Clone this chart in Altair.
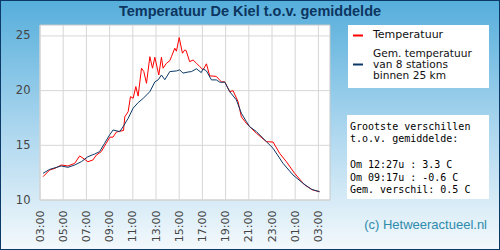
import altair as alt
import pandas as pd

# ---- data (hours since 00:00 of first day; values in deg C) ----
temp_hours = [3.26, 3.83, 4.3, 4.83, 5.41, 5.99, 6.42, 6.85, 7.13, 7.56, 7.85, 8.28, 8.71,
              9.02, 9.3, 9.57, 9.88, 10.2, 10.31, 10.6, 10.8, 11.03, 11.26, 11.46, 11.75,
              11.95, 12.18, 12.47, 12.7, 12.9, 13.24, 13.47, 13.61, 13.9, 14.19, 14.33,
              14.62, 14.76, 15.0, 15.28, 15.48, 15.6, 15.9, 16.2, 16.49, 16.77, 17.06,
              17.35, 17.63, 18.2, 18.64, 18.93, 19.36, 19.64, 20.07, 20.36, 20.8, 21.08,
              21.66, 22.52, 23.09, 23.66, 24.24, 24.95, 25.82, 26.53, 27.1]
temp_values = [12.13, 12.74, 12.9, 13.2, 13.11, 13.35, 14.03, 13.72, 13.5, 13.66, 14.1, 14.42,
               15.19, 15.74, 15.75, 16.2, 16.3, 16.35, 17.6, 18.08, 19.45, 19.3, 20.37, 19.5,
               22.05, 21.74, 20.67, 23.1, 22.05, 23.05, 21.43, 23.05, 22.05, 22.5, 22.74,
               23.1, 23.88, 23.6, 24.85, 23.42, 23.72, 23.66, 22.65, 22.8, 22.5, 22.2, 21.9,
               22.45, 21.35, 21.3, 20.8, 20.8, 19.9, 20.0, 19.0, 17.6, 17.0, 16.7, 16.1,
               15.33, 15.3, 14.27, 13.5, 12.44, 11.37, 10.91, 10.76]

avg_hours = [3.26, 3.83, 4.83, 5.41, 5.99, 6.56, 7.13, 7.7, 8.14, 8.57, 9.0, 9.3, 9.88, 10.16,
             10.6, 11.03, 11.46, 11.9, 12.47, 12.9, 13.2, 13.47, 13.76, 14.19, 14.76, 15.04,
             15.33, 15.76, 16.05, 16.49, 16.9, 17.06, 17.35, 17.78, 18.2, 18.5, 18.93, 19.36,
             19.93, 20.36, 20.8, 21.08, 21.66, 22.52, 23.09, 23.95, 24.81, 25.67, 26.39, 27.1]
avg_values = [12.44, 12.8, 13.11, 12.99, 13.2, 13.5, 13.96, 14.2, 14.42, 15.19, 15.95, 16.4,
              16.25, 16.7, 17.47, 18.4, 18.9, 19.3, 19.9, 20.8, 21.0, 21.43, 21.0, 21.74, 21.8,
              21.9, 21.6, 21.7, 21.74, 22.0, 21.65, 22.0, 21.8, 20.98, 20.98, 20.77, 20.77,
              19.9, 19.15, 17.93, 17.16, 16.7, 16.25, 15.33, 14.73, 13.35, 12.29, 11.53,
              10.98, 10.76]

x_ticks = [3, 5, 7, 9, 11, 13, 15, 17, 19, 21, 23, 25, 27]
y_ticks = [10, 15, 20, 25]

title_text = "Temperatuur De Kiel t.o.v. gemiddelde"
legend_temp = "Temperatuur"
legend_avg = ["Gem. temperatuur", "van 8 stations", "binnen 25 km"]
info_head = ["Grootste verschillen", "t.o.v. gemiddelde:"]
info_body = ["Om 12:27u : 3.3 C", "Om 09:17u : -0.6 C", "Gem. verschil: 0.5 C"]
copyright_text = "(c) Hetweeractueel.nl"

# ---- tables ----
temp_df = pd.DataFrame({"h": temp_hours, "t": temp_values})
avg_df = pd.DataFrame({"h": avg_hours, "t": avg_values})
xgrid_df = pd.DataFrame({"h": x_ticks})
ygrid_df = pd.DataFrame({"t": y_ticks})
one = pd.DataFrame({"k": [0]})  # single row for decorations / annotations

W, H = 290, 175
xscale = alt.Scale(domain=[3, 28], nice=False, zero=False)
yscale = alt.Scale(domain=[10, 26], nice=False, zero=False)

label_expr = "(datum.value % 24 < 10 ? '0' : '') + (datum.value % 24) + ':00'"
x_axis = alt.Axis(values=x_ticks, labelExpr=label_expr, labelAngle=-90, title=None,
                  grid=False, ticks=False, domain=False, labelPadding=10,
                  labelFontSize=11, labelColor="#444444", labelFont="DejaVu Sans", zindex=1)
y_axis = alt.Axis(values=y_ticks, title=None, grid=False, ticks=False, domain=False,
                  labelPadding=10, labelFontSize=11.5, labelColor="#444444",
                  labelFont="DejaVu Sans", zindex=1)

# background gradient with navy border
bg = alt.Chart(one).mark_rect(
    fill=alt.Gradient(gradient="linear",
                      stops=[alt.GradientStop(color="#55aedb", offset=0),
                             alt.GradientStop(color="#a9d5ee", offset=0.5),
                             alt.GradientStop(color="#f4f9fc", offset=1)],
                      x1=0, x2=0, y1=0, y2=1),
    stroke="#0b3a68", strokeWidth=2
).encode(x=alt.value(-40), x2=alt.value(460), y=alt.value(-25), y2=alt.value(225))

plot_bg = alt.Chart(one).mark_rect(fill="white", stroke="#c8c8c8", strokeWidth=1).encode(
    x=alt.value(0), x2=alt.value(W), y=alt.value(0), y2=alt.value(H))

vgrid = alt.Chart(xgrid_df).mark_rule(color="#d6d6d6", strokeWidth=1).encode(
    x=alt.X("h:Q", scale=xscale, axis=x_axis), y=alt.value(0), y2=alt.value(H))
hgrid = alt.Chart(ygrid_df).mark_rule(color="#d6d6d6", strokeWidth=1).encode(
    y=alt.Y("t:Q", scale=yscale, axis=y_axis), x=alt.value(0), x2=alt.value(W))

red = alt.Chart(temp_df).mark_line(color="#ff0000", strokeWidth=1).encode(
    x=alt.X("h:Q", scale=xscale, axis=x_axis), y=alt.Y("t:Q", scale=yscale, axis=y_axis))
blue = alt.Chart(avg_df).mark_line(color="#0b3a68", strokeWidth=1).encode(
    x=alt.X("h:Q", scale=xscale, axis=x_axis), y=alt.Y("t:Q", scale=yscale, axis=y_axis))

title = alt.Chart(one).mark_text(
    text=title_text, font="Liberation Sans", fontSize=14.5, fontWeight="bold",
    color="#0c3560", align="center", baseline="middle"
).encode(x=alt.value(210), y=alt.value(-13))

legend_box = alt.Chart(one).mark_rect(fill="white").encode(
    x=alt.value(308), x2=alt.value(449), y=alt.value(0), y2=alt.value(63))
info_box = alt.Chart(one).mark_rect(fill="white").encode(
    x=alt.value(307), x2=alt.value(449), y=alt.value(90), y2=alt.value(174))

leg_red = alt.Chart(one).mark_rule(color="#ff0000", strokeWidth=2).encode(
    x=alt.value(313), x2=alt.value(323), y=alt.value(10.5))
leg_blue = alt.Chart(one).mark_rule(color="#0b3a68", strokeWidth=2).encode(
    x=alt.value(313), x2=alt.value(323), y=alt.value(39.5))

leg_t1 = alt.Chart(one).mark_text(
    text=legend_temp, font="DejaVu Sans", fontSize=11, color="#111111",
    align="left", baseline="middle").encode(x=alt.value(333), y=alt.value(10))
leg_t2 = alt.Chart(one).mark_text(
    text=legend_avg, font="DejaVu Sans", fontSize=10.6, color="#111111",
    align="left", baseline="middle", lineHeight=11).encode(x=alt.value(333), y=alt.value(29.2))

info_t1 = alt.Chart(one).mark_text(
    text=info_head, font="DejaVu Sans Mono", fontSize=10, color="#000000",
    align="left", baseline="middle", lineHeight=12.5).encode(x=alt.value(310), y=alt.value(101.7))
info_t2 = alt.Chart(one).mark_text(
    text=info_body, font="DejaVu Sans Mono", fontSize=10, color="#000000",
    align="left", baseline="middle", lineHeight=12.8).encode(x=alt.value(310), y=alt.value(139.8))

copyright = alt.Chart(one).mark_text(
    text=copyright_text, font="Liberation Sans", fontSize=13, color="#2d8bab",
    align="right", baseline="middle").encode(x=alt.value(447), y=alt.value(200))

chart = alt.layer(
    bg, plot_bg, vgrid, hgrid, red, blue, title, legend_box, info_box,
    leg_red, leg_blue, leg_t1, leg_t2, info_t1, info_t2, copyright
).properties(
    width=W, height=H,
    padding={"left": 40, "top": 25, "right": 170, "bottom": 50},
    autosize=alt.AutoSizeParams(type="none")
).configure_view(stroke=None)

chart.save("out.html", embed_options={"renderer": "svg", "actions": False})
